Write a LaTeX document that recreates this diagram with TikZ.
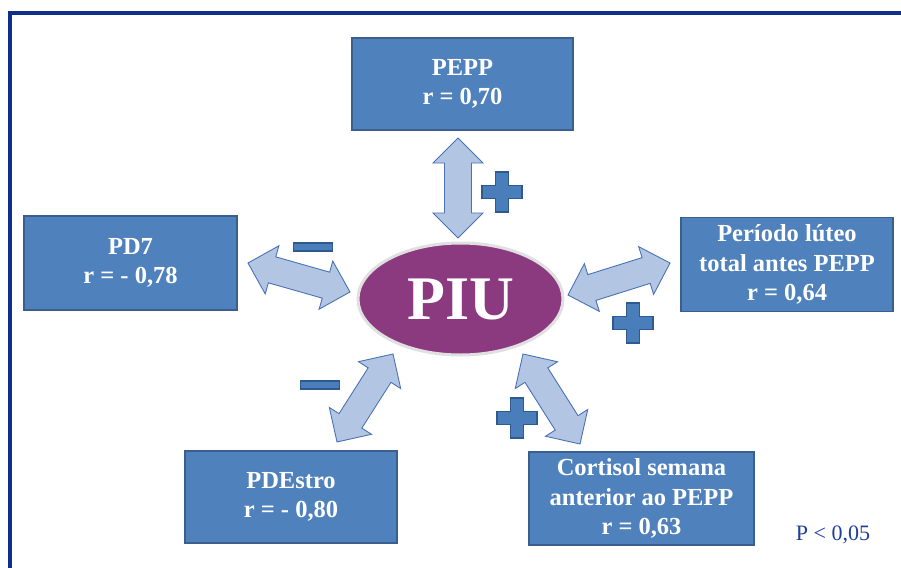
\documentclass[tikz,border=0pt]{standalone}
\usepackage{fontspec}
\setmainfont{Liberation Serif}
\usetikzlibrary{shapes.geometric,calc}

\definecolor{boxfill}{HTML}{4F81BD}
\definecolor{boxline}{HTML}{3A5F8F}
\definecolor{arrowfill}{HTML}{B2C6E4}
\definecolor{arrowline}{HTML}{4A72B5}
\definecolor{signfill}{HTML}{4A7EBB}
\definecolor{signline}{HTML}{2E5A90}
\definecolor{piufill}{HTML}{8B3A80}
\definecolor{frameblue}{HTML}{0E2F8C}
\definecolor{notecol}{HTML}{1F3E99}

\tikzset{
  infobox/.style={draw=boxline, line width=1.2pt, fill=boxfill, text=white,
    font=\bfseries\fontsize{24.5}{29.5}\selectfont, align=center,
    inner sep=0pt},
  blockarrow/.style={draw=arrowline, line width=0.9pt, fill=arrowfill, line join=miter},
  signmark/.style={draw=signline, line width=1.2pt, fill=signfill},
}

% double-headed block arrow between two named coordinates
\newcommand\dblarrow[2]{%
  \draw[blockarrow] let \p1=(#1), \p2=(#2),
    \n{ang}={atan2(\y2-\y1,\x2-\x1)}, \n{len}={veclen(\x2-\x1,\y2-\y1)} in
    [shift={(\p1)}, rotate=\n{ang}]
    (0pt,0pt) -- (25pt,25pt) -- (25pt,13.5pt) -- (\n{len}-25pt,13.5pt)
    -- (\n{len}-25pt,25pt) -- (\n{len},0pt) -- (\n{len}-25pt,-25pt)
    -- (\n{len}-25pt,-13.5pt) -- (25pt,-13.5pt) -- (25pt,-25pt) -- cycle;}

% plus sign centred on a coordinate
\newcommand\plussign[1]{%
  \draw[signmark] (#1) ++(-20pt,-6.5pt) -- ++(13.5pt,0pt) -- ++(0pt,-13.5pt)
    -- ++(13pt,0pt) -- ++(0pt,13.5pt) -- ++(13.5pt,0pt) -- ++(0pt,13pt)
    -- ++(-13.5pt,0pt) -- ++(0pt,13.5pt) -- ++(-13pt,0pt) -- ++(0pt,-13.5pt)
    -- ++(-13.5pt,0pt) -- cycle;}

% minus sign centred on a coordinate
\newcommand\minussign[1]{%
  \draw[signmark] (#1) ++(-19.5pt,-4pt) rectangle ++(39pt,8pt);}

\begin{document}
\begin{tikzpicture}[x=1pt,y=-1pt]
  \useasboundingbox (0,0) rectangle (901,567);
  \fill[white] (0,0) rectangle (901,567);

  % frame
  \draw[frameblue, line width=3.2pt] (10,570) -- (10,13) -- (905,13);

  % boxes
  \node[infobox, minimum width=221pt, minimum height=92pt] (pepp) at (462.5,84)
    {PEPP\\r = 0,70};
  \node[infobox, minimum width=213pt, minimum height=94pt] (pd7) at (130.5,263)
    {PD7\\r = - 0,78};
  \node[infobox, minimum width=212pt, minimum height=94pt] (luteo) at (787,264.5)
    {Período lúteo\\total antes PEPP\\r = 0,64};
  \node[infobox, minimum width=212pt, minimum height=92pt] (pdestro) at (291,497)
    {PDEstro\\r = - 0,80};
  \node[infobox, minimum width=225pt, minimum height=93pt] (cortisol) at (641.5,498.5)
    {Cortisol semana\\anterior ao PEPP\\r = 0,63};

  % centre ellipse
  \node[ellipse, draw=black!12, line width=3pt, fill=piufill, text=white,
        minimum width=205pt, minimum height=112pt, inner sep=0pt,
        font=\bfseries\fontsize{62}{62}\selectfont] (piu) at (460.5,299) {PIU};

  % arrow end points
  \coordinate (tA) at (458,138);   \coordinate (tB) at (458,238);
  \coordinate (lA) at (248,263);   \coordinate (lB) at (350,292);
  \coordinate (rA) at (568,295);   \coordinate (rB) at (670,263);
  \coordinate (dlA) at (393,354);  \coordinate (dlB) at (337,442);
  \coordinate (drA) at (523,354);  \coordinate (drB) at (580,444);

  \dblarrow{tA}{tB}
  \dblarrow{lA}{lB}
  \dblarrow{rA}{rB}
  \dblarrow{dlA}{dlB}
  \dblarrow{drA}{drB}

  % signs
  \coordinate (p1) at (502,192);
  \coordinate (p2) at (633,323);
  \coordinate (p3) at (517,418);
  \coordinate (m1) at (313,247);
  \coordinate (m2) at (320,385);
  \plussign{p1}
  \plussign{p2}
  \plussign{p3}
  \minussign{m1}
  \minussign{m2}

  % significance note
  \node[text=notecol, font=\fontsize{22}{22}\selectfont, inner sep=0pt] (note)
    at (833,535) {P < 0,05};
\end{tikzpicture}
\end{document}
